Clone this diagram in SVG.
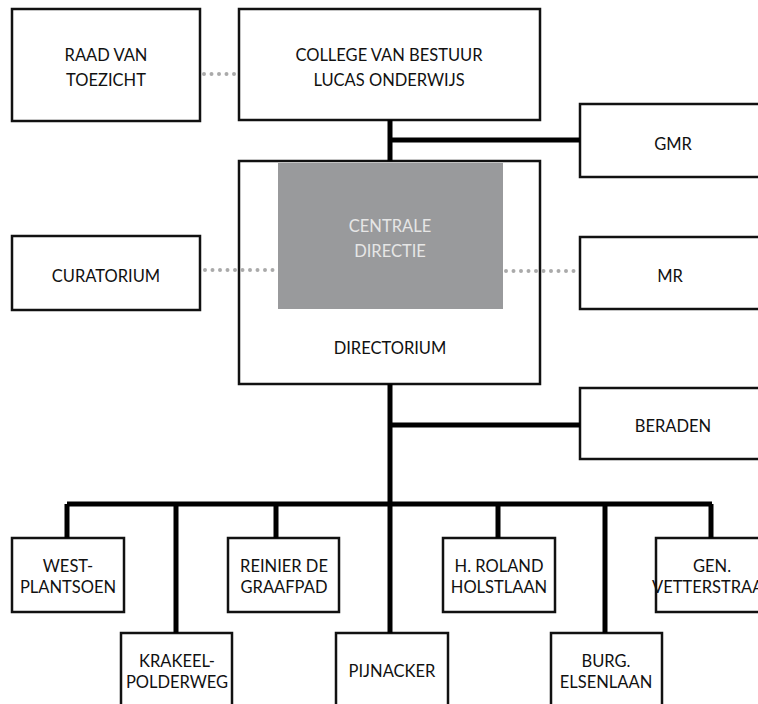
<svg xmlns="http://www.w3.org/2000/svg" width="758" height="704" viewBox="0 0 758 704">
<style>
.box{fill:#fff;stroke:#111;stroke-width:2.5}
.t{font-family:Lato,"Open Sans","Liberation Sans",sans-serif;font-size:16.5px;fill:#111;text-anchor:middle}
.w{fill:#e6e6e6}
.c{stroke:#000;stroke-width:5;fill:none}
.d{stroke:#aaa;stroke-width:4;stroke-linecap:round;stroke-dasharray:0 7.5;fill:none}
</style>
<rect width="758" height="704" fill="#fff"/>
<g id="raad"><rect class="box" x="12" y="9" width="188" height="112"/><text class="t" x="106" y="61">RAAD VAN</text><text class="t" x="106" y="86">TOEZICHT</text></g>
<g id="college"><rect class="box" x="239" y="9" width="301" height="111"/><text class="t" x="389" y="61">COLLEGE VAN BESTUUR</text><text class="t" x="389" y="86">LUCAS ONDERWIJS</text></g>
<g id="gmr"><rect class="box" x="580" y="104" width="190" height="73"/><text class="t" x="673" y="150">GMR</text></g>
<g id="directorium"><rect class="box" x="239" y="161" width="301" height="223"/><rect x="278" y="163" width="225" height="146" fill="#999a9c"/><text class="t w" x="390" y="232">CENTRALE</text><text class="t w" x="390" y="257">DIRECTIE</text><text class="t" x="390" y="354">DIRECTORIUM</text></g>
<g id="curatorium"><rect class="box" x="12" y="236" width="188" height="74"/><text class="t" x="106" y="282">CURATORIUM</text></g>
<g id="mr"><rect class="box" x="580" y="237" width="190" height="72"/><text class="t" x="670" y="282">MR</text></g>
<g id="beraden"><rect class="box" x="580" y="388" width="190" height="71"/><text class="t" x="673" y="432">BERADEN</text></g>
<g id="west"><rect class="box" x="12" y="538" width="112" height="74"/><text class="t" x="68" y="572">WEST-</text><text class="t" x="68" y="593">PLANTSOEN</text></g>
<g id="krakeel"><rect class="box" x="121" y="633" width="111" height="90"/><text class="t" x="177" y="667">KRAKEEL-</text><text class="t" x="177" y="688">POLDERWEG</text></g>
<g id="reinier"><rect class="box" x="228" y="538" width="111" height="74"/><text class="t" x="284" y="572">REINIER DE</text><text class="t" x="284" y="593">GRAAFPAD</text></g>
<g id="pijnacker"><rect class="box" x="336" y="633" width="112" height="90"/><text class="t" x="392" y="677">PIJNACKER</text></g>
<g id="roland"><rect class="box" x="443" y="538" width="112" height="74"/><text class="t" x="499" y="572">H. ROLAND</text><text class="t" x="499" y="593">HOLSTLAAN</text></g>
<g id="burg"><rect class="box" x="551" y="633" width="111" height="90"/><text class="t" x="606" y="667">BURG.</text><text class="t" x="606" y="688">ELSENLAAN</text></g>
<g id="gen"><rect class="box" x="656" y="538" width="112" height="74"/><text class="t" x="712" y="572">GEN.</text><text class="t" x="712" y="593">VETTERSTRAAT</text></g>
<g id="connectors">
<path class="c" d="M390 120V161M390 140H580M390 384V504M390 425H580M67 504H712M67 504V538M176 504V633M276 504V538M390 504V633M498 504V538M605 504V633M711 504V538"/>
<path class="d" d="M204 74H236M205 270H276M506 271H577"/>
</g>
</svg>
